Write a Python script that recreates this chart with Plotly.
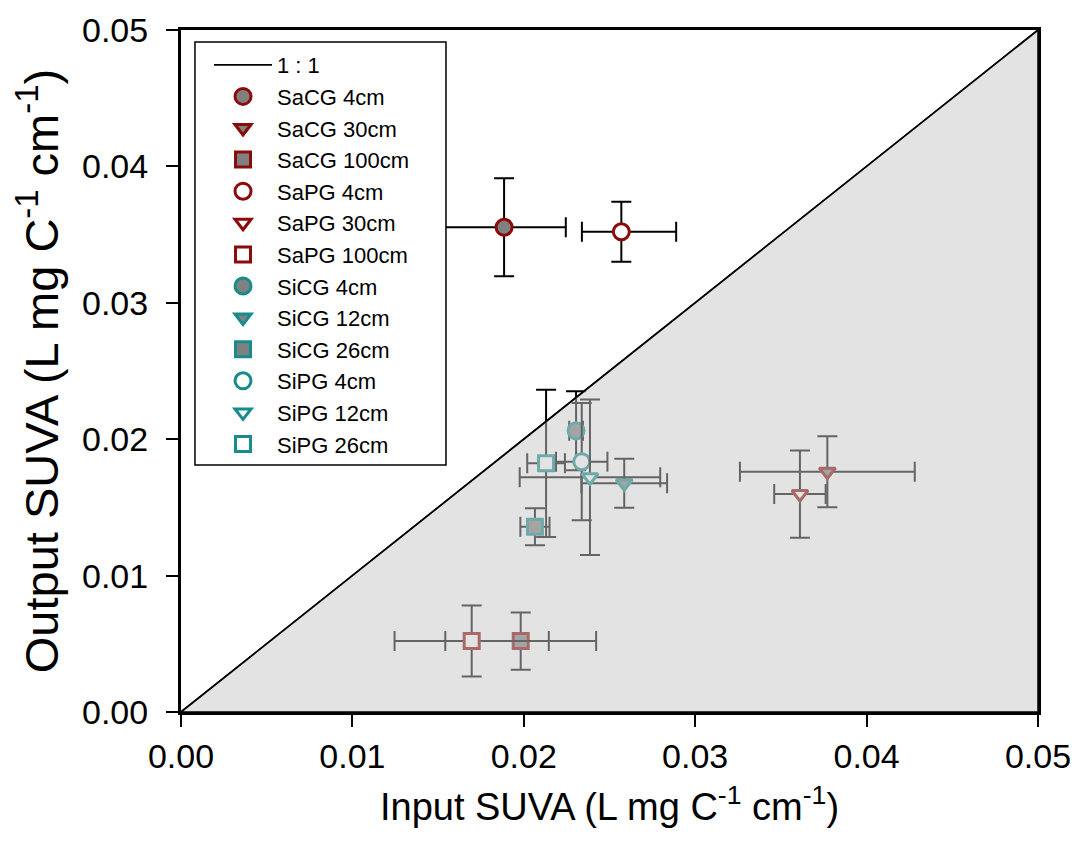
import plotly.graph_objects as go

# ---- data ----
names = ["SaCG 4cm", "SaCG 30cm", "SaCG 100cm", "SaPG 4cm", "SaPG 30cm", "SaPG 100cm",
         "SiCG 4cm", "SiCG 12cm", "SiCG 26cm", "SiPG 4cm", "SiPG 12cm", "SiPG 26cm"]
input_suva = [0.01885, 0.03771, 0.01982, 0.02569, 0.03611, 0.01696,
              0.02305, 0.02586, 0.02065, 0.02338, 0.02386, 0.02130]
output_suva = [0.03554, 0.01762, 0.00520, 0.03521, 0.01598, 0.00520,
               0.02062, 0.01677, 0.01358, 0.01835, 0.01721, 0.01823]
x_err_plus = [0.0036, 0.0051, 0.0044, 0.0032, 0.0015, 0.0045,
              0.0004, 0.0025, 0.00085, 0.0015, 0.0041, 0.0011]
x_err_minus = [0.0036, 0.0051, 0.0044, 0.0023, 0.0015, 0.0045,
               0.0004, 0.0025, 0.00085, 0.0015, 0.0041, 0.0011]
y_err = [0.0036, 0.0026, 0.0021, 0.0022, 0.0032, 0.0026,
         0.0029, 0.0018, 0.00135, 0.0043, 0.0057, 0.0054]
one_to_one = [0.0, 0.05]
tick_vals = [0.0, 0.01, 0.02, 0.03, 0.04, 0.05]

# ---- styles ----
RED = "#8b0a0a"
TEAL = "#178c8c"
FILL = "#808080"
symbols = ["circle", "triangle-down", "square"] * 4
colors = [RED] * 6 + [TEAL] * 6
filled = [True, True, True, False, False, False] * 2
sizes = {"circle": 16, "triangle-down": 14, "square": 15}

fig = go.Figure()
fig.add_trace(go.Scatter(x=one_to_one, y=one_to_one, mode="lines", name="1 : 1",
                         line=dict(color="black", width=1.8), hoverinfo="skip"))

for i, n in enumerate(names):
    fig.add_trace(go.Scatter(
        x=[input_suva[i]], y=[output_suva[i]], mode="markers", name=n,
        marker=dict(symbol=symbols[i], size=sizes[symbols[i]],
                    color=FILL if filled[i] else "white",
                    line=dict(color=colors[i], width=3)),
        error_x=dict(type="data", symmetric=False, array=[x_err_plus[i]],
                     arrayminus=[x_err_minus[i]], color="black", thickness=2, width=10),
        error_y=dict(type="data", array=[y_err[i]], color="black", thickness=2, width=10),
    ))

lo, hi = one_to_one
# translucent grey overlay for the region below the 1:1 line
fig.add_shape(type="path", xref="x", yref="y",
              path=f"M {lo} {lo} L {hi} {lo} L {hi} {hi} Z",
              fillcolor="rgba(200,200,200,0.5)", line=dict(color="black", width=1.5),
              layer="above")
# legend box (covers the marks behind it, like the original)
fig.add_shape(type="rect", xref="paper", yref="paper",
              x0=0.0163, x1=0.3092, y0=0.3622, y1=0.9824,
              fillcolor="white", line=dict(color="black", width=1.5), layer="above")

TICKFONT = dict(family="Arial", size=34, color="black")

fig.update_xaxes(range=[lo, hi], tickvals=tick_vals, automargin=False,
                 tickformat=".2f", showline=True, linewidth=3, linecolor="black", mirror=True,
                 ticks="outside", ticklen=12, tickwidth=2, tickcolor="black",
                 ticklabeloverflow="allow",
                 showgrid=False, zeroline=False, tickfont=TICKFONT,
                 title=dict(text="Input SUVA (L mg C<sup>-1</sup> cm<sup>-1</sup>)",
                            font=dict(family="Arial", size=38, color="black"), standoff=20))
fig.update_yaxes(range=[lo, hi], tickvals=tick_vals, automargin=False,
                 tickformat=".2f", showline=True, linewidth=3, linecolor="black", mirror=True,
                 ticks="outside", ticklen=12, tickwidth=2, tickcolor="black",
                 ticklabelstandoff=11, ticklabeloverflow="allow",
                 showgrid=False, zeroline=False, tickfont=TICKFONT,
                 title=dict(text="Output SUVA (L mg C<sup>-1</sup> cm<sup>-1</sup>)",
                            font=dict(family="Arial", size=47, color="black"), standoff=20))

fig.update_layout(
    width=1070, height=831,
    margin=dict(l=173, r=40, t=22, b=127, autoexpand=False),
    plot_bgcolor="white", paper_bgcolor="white",
    showlegend=True,
    legend=dict(x=0.0327, y=0.9795, xanchor="left", yanchor="top",
                bgcolor="rgba(0,0,0,0)", borderwidth=0, itemwidth=58,
                font=dict(family="Arial", size=22, color="black")),
)

fig.write_html("out.html")
